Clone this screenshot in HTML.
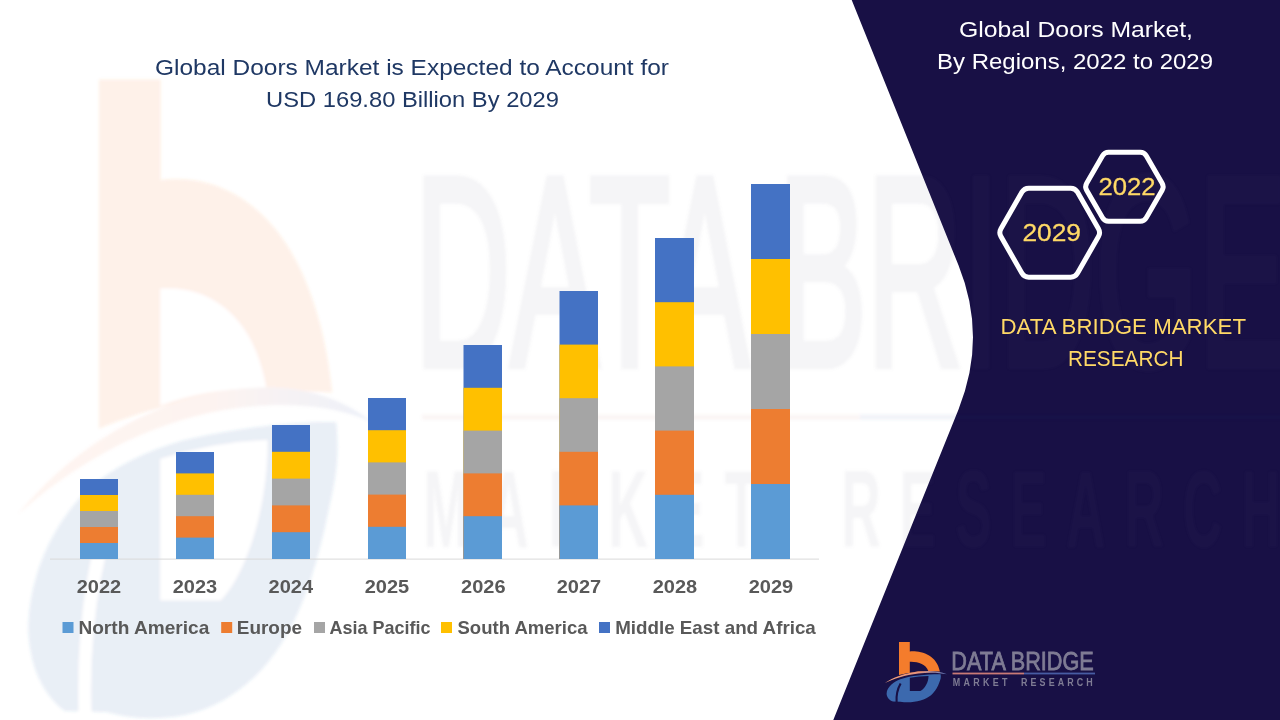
<!DOCTYPE html>
<html lang="en"><head><meta charset="utf-8"><title>Global Doors Market</title>
<style>
html,body{margin:0;padding:0;background:#fff;}
body{width:1280px;height:720px;overflow:hidden;font-family:"Liberation Sans",sans-serif;}
svg{display:block;}
text{font-family:"Liberation Sans",sans-serif;}
</style></head><body>
<svg width="1280" height="720" viewBox="0 0 1280 720">
<linearGradient id="lg1" x1="885" y1="0" x2="947" y2="0" gradientUnits="userSpaceOnUse"><stop offset="0" stop-color="#f3a27c"/><stop offset="0.55" stop-color="#e8937a"/><stop offset="1" stop-color="#5f7fc6"/></linearGradient>
<linearGradient id="lg2" x1="885" y1="0" x2="947" y2="0" gradientUnits="userSpaceOnUse"><stop offset="0" stop-color="#f3a27c"/><stop offset="0.55" stop-color="#e8937a"/><stop offset="1" stop-color="#5f7fc6"/></linearGradient>
<filter id="wmblur" x="0" y="0" width="1280" height="720" filterUnits="userSpaceOnUse"><feGaussianBlur stdDeviation="1.6"/></filter>
<rect width="1280" height="720" fill="#ffffff"/>
<g filter="url(#wmblur)"><g transform="translate(-5402.30,-6711.87) scale(6.12,10.58)">
<g opacity="0.11" transform="translate(61.58,0) scale(0.9314,1)">
<path d="M899,641.9 H909.8 V651.4 C921,650.6 936.5,654.5 939.9,671.5 Q918,670.6 899,674.9 Z" fill="#f47c2c"/>
<path d="M909.8,661.7 C918,661.4 926,664 928.3,671.1 Q918,671 909.8,672.7 Z" fill="#ffffff"/>
<path d="M886.6,693.5 C887,687 894,681.5 900.3,679.3 C906,677.2 912,676.1 918.2,675.5 C926,674.7 934,674.2 940.6,674.3 C941.2,677.5 940.6,679.5 939.3,682.5 C937.8,686.5 936,690 933,693.3 C930.5,696 927.5,698 923.5,699.6 C919.5,701.2 915.5,702 910.8,702.2 C907,702.4 903.5,702.2 900.3,701.7 L893,701.6 C889,700 886.4,697 886.6,693 Z" fill="#3c69ae"/>
<path d="M909.8,677.8 Q919,676.2 928.5,676 C928.6,682 925,688.5 920.3,691.1 L909.8,691.1 Z" fill="#ffffff"/>
<path d="M900.6,683.5 Q895.8,692 896.6,702.5" fill="none" stroke="#ffffff" stroke-width="2.1"/>
<path d="M884.8,683 C893,677.5 905,673.2 918.2,671.6 C928,670.4 939,670.8 946.9,674.3 C939,672.3 928,672.3 918.4,673.4 C905,675 894,678.6 884.8,683 Z" fill="url(#lg2)"/>
</g>
<g opacity="0.08" transform="translate(-0.8,-0.8)">
<text x="951.3" y="669.7" font-size="25.5" fill="#7f7c94" stroke="#7f7c94" stroke-width="0.8" textLength="142.5" lengthAdjust="spacingAndGlyphs">DATA BRIDGE</text>
<rect x="952.5" y="674.4" width="71.5" height="0.45" fill="#c97a76"/>
<rect x="1024" y="674.4" width="71" height="0.45" fill="#485ca3"/>
<text transform="translate(952.7,686.9) scale(0.86,1)" font-size="10.4" font-weight="700" fill="#7f7c94" textLength="63.6" lengthAdjust="spacing">MARKET</text>
<text transform="translate(1021,686.9) scale(0.86,1)" font-size="10.4" font-weight="700" fill="#7f7c94" textLength="83.5" lengthAdjust="spacing">RESEARCH</text>
</g>
</g></g>
<path d="M851.7,0 L958.5,265.3 Q987.5,337.4 958.5,409.4 L833.3,720 L1280,720 L1280,0 Z" fill="#181045"/>
<clipPath id="pclip"><path d="M851.7,0 L958.5,265.3 Q987.5,337.4 958.5,409.4 L833.3,720 L1280,720 L1280,0 Z"/></clipPath>
<g clip-path="url(#pclip)"><g filter="url(#wmblur)"><g transform="translate(-5402.30,-6711.87) scale(6.12,10.58)">
<g opacity="0.035" transform="translate(-0.8,-0.8)">
<text x="951.3" y="669.7" font-size="25.5" fill="#7f7c94" stroke="#7f7c94" stroke-width="0.8" textLength="142.5" lengthAdjust="spacingAndGlyphs">DATA BRIDGE</text>
<rect x="952.5" y="674.4" width="71.5" height="0.45" fill="#c97a76"/>
<rect x="1024" y="674.4" width="71" height="0.45" fill="#485ca3"/>
<text transform="translate(952.7,686.9) scale(0.86,1)" font-size="10.4" font-weight="700" fill="#7f7c94" textLength="63.6" lengthAdjust="spacing">MARKET</text>
<text transform="translate(1021,686.9) scale(0.86,1)" font-size="10.4" font-weight="700" fill="#7f7c94" textLength="83.5" lengthAdjust="spacing">RESEARCH</text>
</g>
</g></g></g>
<!-- axis -->
<rect x="50" y="558.6" width="769" height="1" fill="#d9d9d9"/>
<rect x="80" y="479.00" width="38" height="80.00" fill="#4472c4"/><rect x="80" y="495.00" width="38" height="64.00" fill="#ffc000"/><rect x="80" y="511.00" width="38" height="48.00" fill="#a5a5a5"/><rect x="80" y="527.00" width="38" height="32.00" fill="#ed7d31"/><rect x="80" y="543.00" width="38" height="16.00" fill="#5b9bd5"/>
<rect x="176" y="452.00" width="38" height="107.00" fill="#4472c4"/><rect x="176" y="473.40" width="38" height="85.60" fill="#ffc000"/><rect x="176" y="494.80" width="38" height="64.20" fill="#a5a5a5"/><rect x="176" y="516.20" width="38" height="42.80" fill="#ed7d31"/><rect x="176" y="537.60" width="38" height="21.40" fill="#5b9bd5"/>
<rect x="272" y="425.00" width="38" height="134.00" fill="#4472c4"/><rect x="272" y="451.80" width="38" height="107.20" fill="#ffc000"/><rect x="272" y="478.60" width="38" height="80.40" fill="#a5a5a5"/><rect x="272" y="505.40" width="38" height="53.60" fill="#ed7d31"/><rect x="272" y="532.20" width="38" height="26.80" fill="#5b9bd5"/>
<rect x="368" y="398.00" width="38" height="161.00" fill="#4472c4"/><rect x="368" y="430.20" width="38" height="128.80" fill="#ffc000"/><rect x="368" y="462.40" width="38" height="96.60" fill="#a5a5a5"/><rect x="368" y="494.60" width="38" height="64.40" fill="#ed7d31"/><rect x="368" y="526.80" width="38" height="32.20" fill="#5b9bd5"/>
<rect x="463.5" y="345.00" width="38.5" height="214.00" fill="#4472c4"/><rect x="463.5" y="387.80" width="38.5" height="171.20" fill="#ffc000"/><rect x="463.5" y="430.60" width="38.5" height="128.40" fill="#a5a5a5"/><rect x="463.5" y="473.40" width="38.5" height="85.60" fill="#ed7d31"/><rect x="463.5" y="516.20" width="38.5" height="42.80" fill="#5b9bd5"/>
<rect x="559.5" y="291.00" width="38.5" height="268.00" fill="#4472c4"/><rect x="559.5" y="344.60" width="38.5" height="214.40" fill="#ffc000"/><rect x="559.5" y="398.20" width="38.5" height="160.80" fill="#a5a5a5"/><rect x="559.5" y="451.80" width="38.5" height="107.20" fill="#ed7d31"/><rect x="559.5" y="505.40" width="38.5" height="53.60" fill="#5b9bd5"/>
<rect x="655" y="238.00" width="39" height="321.00" fill="#4472c4"/><rect x="655" y="302.20" width="39" height="256.80" fill="#ffc000"/><rect x="655" y="366.40" width="39" height="192.60" fill="#a5a5a5"/><rect x="655" y="430.60" width="39" height="128.40" fill="#ed7d31"/><rect x="655" y="494.80" width="39" height="64.20" fill="#5b9bd5"/>
<rect x="751" y="184.00" width="39" height="375.00" fill="#4472c4"/><rect x="751" y="259.00" width="39" height="300.00" fill="#ffc000"/><rect x="751" y="334.00" width="39" height="225.00" fill="#a5a5a5"/><rect x="751" y="409.00" width="39" height="150.00" fill="#ed7d31"/><rect x="751" y="484.00" width="39" height="75.00" fill="#5b9bd5"/>
<text x="98.9" y="593" font-size="18.5" font-weight="700" fill="#595959" text-anchor="middle" textLength="44.5" lengthAdjust="spacingAndGlyphs">2022</text>
<text x="195.0" y="593" font-size="18.5" font-weight="700" fill="#595959" text-anchor="middle" textLength="44.5" lengthAdjust="spacingAndGlyphs">2023</text>
<text x="290.8" y="593" font-size="18.5" font-weight="700" fill="#595959" text-anchor="middle" textLength="44.5" lengthAdjust="spacingAndGlyphs">2024</text>
<text x="386.9" y="593" font-size="18.5" font-weight="700" fill="#595959" text-anchor="middle" textLength="44.5" lengthAdjust="spacingAndGlyphs">2025</text>
<text x="483.3" y="593" font-size="18.5" font-weight="700" fill="#595959" text-anchor="middle" textLength="44.5" lengthAdjust="spacingAndGlyphs">2026</text>
<text x="578.9" y="593" font-size="18.5" font-weight="700" fill="#595959" text-anchor="middle" textLength="44.5" lengthAdjust="spacingAndGlyphs">2027</text>
<text x="675.0" y="593" font-size="18.5" font-weight="700" fill="#595959" text-anchor="middle" textLength="44.5" lengthAdjust="spacingAndGlyphs">2028</text>
<text x="771.0" y="593" font-size="18.5" font-weight="700" fill="#595959" text-anchor="middle" textLength="44.5" lengthAdjust="spacingAndGlyphs">2029</text>
<rect x="62.5" y="622" width="11" height="11" fill="#5b9bd5"/><text x="78.4" y="633.7" font-size="18.5" font-weight="700" fill="#595959" textLength="130.9" lengthAdjust="spacingAndGlyphs">North America</text>
<rect x="221.2" y="622" width="11" height="11" fill="#ed7d31"/><text x="236.8" y="633.7" font-size="18.5" font-weight="700" fill="#595959" textLength="65.2" lengthAdjust="spacingAndGlyphs">Europe</text>
<rect x="314" y="622" width="11" height="11" fill="#a5a5a5"/><text x="329.6" y="633.7" font-size="18.5" font-weight="700" fill="#595959" textLength="100.9" lengthAdjust="spacingAndGlyphs">Asia Pacific</text>
<rect x="441" y="622" width="11" height="11" fill="#ffc000"/><text x="457.5" y="633.7" font-size="18.5" font-weight="700" fill="#595959" textLength="130.0" lengthAdjust="spacingAndGlyphs">South America</text>
<rect x="599" y="622" width="11" height="11" fill="#4472c4"/><text x="615.2" y="633.7" font-size="18.5" font-weight="700" fill="#595959" textLength="200.6" lengthAdjust="spacingAndGlyphs">Middle East and Africa</text>
<text x="155" y="74.5" font-size="21.6" fill="#1f3864" textLength="514" lengthAdjust="spacingAndGlyphs">Global Doors Market is Expected to Account for</text>
<text x="266" y="106.5" font-size="21.6" fill="#1f3864" textLength="293" lengthAdjust="spacingAndGlyphs">USD 169.80 Billion By 2029</text>
<text x="959" y="36.6" font-size="21.6" fill="#ffffff" textLength="234" lengthAdjust="spacingAndGlyphs">Global Doors Market,</text>
<text x="937" y="68.8" font-size="21.6" fill="#ffffff" textLength="276" lengthAdjust="spacingAndGlyphs">By Regions, 2022 to 2029</text>
<path d="M1098.46,228.80 Q1100.70,232.70 1098.46,236.60 L1077.44,273.30 Q1075.20,277.20 1070.70,277.20 L1028.70,277.20 Q1024.20,277.20 1021.96,273.30 L1000.94,236.60 Q998.70,232.70 1000.94,228.80 L1021.96,192.10 Q1024.20,188.20 1028.70,188.20 L1070.70,188.20 Q1075.20,188.20 1077.44,192.10 Z" fill="none" stroke="#ffffff" stroke-width="5" stroke-linejoin="round"/>
<path d="M1162.15,183.23 Q1164.15,186.70 1162.15,190.17 L1146.27,217.73 Q1144.28,221.20 1140.28,221.20 L1108.53,221.20 Q1104.53,221.20 1102.53,217.73 L1086.65,190.17 Q1084.65,186.70 1086.65,183.23 L1102.53,155.67 Q1104.53,152.20 1108.53,152.20 L1140.28,152.20 Q1144.28,152.20 1146.27,155.67 Z" fill="none" stroke="#ffffff" stroke-width="5" stroke-linejoin="round"/>
<text x="1022.4" y="240.8" font-size="23.5" fill="#ffd966" stroke="#ffd966" stroke-width="0.3" textLength="58.5" lengthAdjust="spacingAndGlyphs">2029</text>
<text x="1098.5" y="195" font-size="23.5" fill="#ffd966" stroke="#ffd966" stroke-width="0.3" textLength="57" lengthAdjust="spacingAndGlyphs">2022</text>
<text x="1000.5" y="334.2" font-size="21.6" fill="#ffd966" textLength="245.5" lengthAdjust="spacingAndGlyphs">DATA BRIDGE MARKET</text>
<text x="1068" y="365.9" font-size="21.6" fill="#ffd966" textLength="115.5" lengthAdjust="spacingAndGlyphs">RESEARCH</text>
<g>
<path d="M899,641.9 H909.8 V651.4 C921,650.6 936.5,654.5 939.9,671.5 Q918,670.6 899,674.9 Z" fill="#f47c2c"/>
<path d="M909.8,661.7 C918,661.4 926,664 928.3,671.1 Q918,671 909.8,672.7 Z" fill="#181045"/>
<path d="M886.6,693.5 C887,687 894,681.5 900.3,679.3 C906,677.2 912,676.1 918.2,675.5 C926,674.7 934,674.2 940.6,674.3 C941.2,677.5 940.6,679.5 939.3,682.5 C937.8,686.5 936,690 933,693.3 C930.5,696 927.5,698 923.5,699.6 C919.5,701.2 915.5,702 910.8,702.2 C907,702.4 903.5,702.2 900.3,701.7 L893,701.6 C889,700 886.4,697 886.6,693 Z" fill="#3c69ae"/>
<path d="M909.8,677.8 Q919,676.2 928.5,676 C928.6,682 925,688.5 920.3,691.1 L909.8,691.1 Z" fill="#181045"/>
<path d="M900.6,683.5 Q895.8,692 896.6,702.5" fill="none" stroke="#181045" stroke-width="2.1"/>
<path d="M884.8,683 C893,677.5 905,673.2 918.2,671.6 C928,670.4 939,670.8 946.9,674.3 C939,672.3 928,672.3 918.4,673.4 C905,675 894,678.6 884.8,683 Z" fill="url(#lg1)"/>
<text x="951.3" y="669.7" font-size="25.5" fill="#7f7c94" stroke="#7f7c94" stroke-width="0.8" textLength="142.5" lengthAdjust="spacingAndGlyphs">DATA BRIDGE</text>
<rect x="952.5" y="672.6" width="71.5" height="1.8" fill="#c97a76"/>
<rect x="1024" y="672.6" width="71" height="1.8" fill="#485ca3"/>
<text transform="translate(952.7,686.2) scale(0.86,1)" font-size="10.4" font-weight="700" fill="#7f7c94" textLength="63.6" lengthAdjust="spacing">MARKET</text>
<text transform="translate(1021,686.2) scale(0.86,1)" font-size="10.4" font-weight="700" fill="#7f7c94" textLength="83.5" lengthAdjust="spacing">RESEARCH</text>
</g>
</svg>
</body></html>
